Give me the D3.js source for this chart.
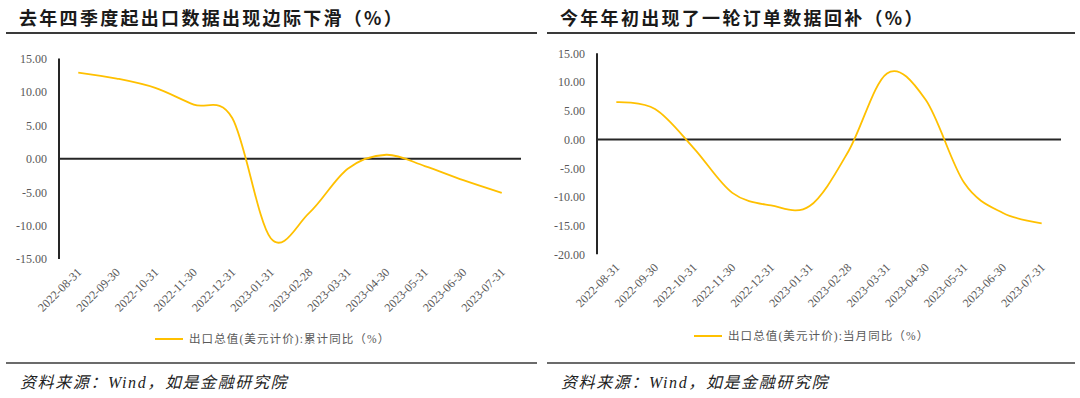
<!DOCTYPE html>
<html>
<head>
<meta charset="utf-8">
<script src="https://cdn.jsdelivr.net/npm/d3@7"></script>
<style>
  html, body { margin: 0; padding: 0; background: #fff; }
  svg { display: block; }
  .title { font-family: "Noto Sans CJK SC", sans-serif; font-weight: 700; font-size: 18px; fill: #1a1a1a; letter-spacing: 2.3px; }
  .source { font-family: "Liberation Serif", "Noto Sans CJK SC", serif; font-style: italic; font-size: 16px; fill: #222; letter-spacing: 1.6px; }
  .tick text { font-family: "Liberation Serif", serif; font-size: 12px; fill: #595959; }
  .legend { font-family: "Liberation Serif", "Noto Sans CJK SC", serif; font-size: 11.5px; fill: #595959; letter-spacing: 1.1px; }
</style>
</head>
<body>
<svg id="chart" width="1080" height="398"></svg>
<script>
// month-end dates, shared by both panels
const months = ["2022-08-31", "2022-09-30", "2022-10-31", "2022-11-30", "2022-12-31", "2023-01-31",
                "2023-02-28", "2023-03-31", "2023-04-30", "2023-05-31", "2023-06-30", "2023-07-31"];

// 出口总值(美元计价):累计同比
const cumulativeYoY = [12.9, 12.0, 10.6, 8.1, 6.1, -11.9, -8.1, -1.5, 0.6, -1.1, -3.2, -5.1];
// 出口总值(美元计价):当月同比
const monthlyYoY = [6.5, 5.3, -1.5, -9.3, -11.5, -11.6, -2.1, 11.5, 6.9, -7.6, -12.8, -14.6];

const leftTicks = [15, 10, 5, 0, -5, -10, -15];
const rightTicks = [15, 10, 5, 0, -5, -10, -15, -20];

const panels = [
    {
        title: "去年四季度起出口数据出现边际下滑（%）",
        legend: "出口总值(美元计价):累计同比（%）",
        values: cumulativeYoY, ticks: leftTicks, domain: [-15, 15],
        left: 6, right: 537, x0: 59, x1: 521, yTop: 58.5, yBot: 259,
        legendX: 155, legendY: 339
    },
    {
        title: "今年年初出现了一轮订单数据回补（%）",
        legend: "出口总值(美元计价):当月同比（%）",
        values: monthlyYoY, ticks: rightTicks, domain: [-20, 15],
        left: 547, right: 1075, x0: 597, x1: 1061, yTop: 53.3, yBot: 254.3,
        legendX: 694, legendY: 336
    }
];

const svg = d3.select("#chart");

function drawPanel(p) {
    const g = svg.append("g");

    // title + rule under it
    g.append("text").attr("class", "title")
        .attr("x", p.left + 13).attr("y", 25)
        .text(p.title);
    g.append("line")
        .attr("x1", p.left).attr("x2", p.right)
        .attr("y1", 33).attr("y2", 33)
        .attr("stroke", "#3a3a3a").attr("stroke-width", 2);

    const x = d3.scaleBand().domain(months).range([p.x0, p.x1]);
    const y = d3.scaleLinear().domain(p.domain).range([p.yBot, p.yTop]);

    // y axis: labels only, the spine is drawn by hand
    const yAxis = g.append("g")
        .attr("transform", `translate(${p.x0},0)`)
        .call(d3.axisLeft(y).tickValues(p.ticks).tickSize(0).tickPadding(12)
            .tickFormat(v => v.toFixed(2)));
    yAxis.select(".domain").remove();

    g.append("line")
        .attr("x1", p.x0).attr("x2", p.x0)
        .attr("y1", p.yTop).attr("y2", p.yBot)
        .attr("stroke", "#262626").attr("stroke-width", 2);

    // zero line
    g.append("line")
        .attr("x1", p.x0).attr("x2", p.x1)
        .attr("y1", y(0)).attr("y2", y(0))
        .attr("stroke", "#262626").attr("stroke-width", 2);

    // rotated date labels under the plot
    const xAxis = g.append("g")
        .attr("transform", `translate(0,${p.yBot})`)
        .call(d3.axisBottom(x).tickSize(0).tickPadding(0));
    xAxis.select(".domain").remove();
    xAxis.selectAll(".tick text")
        .attr("text-anchor", "end")
        .attr("dy", null)
        .attr("transform", "translate(4,14) rotate(-45)");

    // the series, smoothed like the original
    const line = d3.line()
        .x((d, i) => x(months[i]) + x.bandwidth() / 2)
        .y(d => y(d))
        .curve(d3.curveCardinal.tension(0));

    g.append("path")
        .datum(p.values)
        .attr("fill", "none")
        .attr("stroke", "#FFC000")
        .attr("stroke-width", 1.8)
        .attr("d", line);

    // legend
    g.append("line")
        .attr("x1", p.legendX).attr("x2", p.legendX + 28)
        .attr("y1", p.legendY).attr("y2", p.legendY)
        .attr("stroke", "#FFC000").attr("stroke-width", 2);
    g.append("text").attr("class", "legend")
        .attr("x", p.legendX + 34).attr("y", p.legendY + 4)
        .text(p.legend);

    // bottom rule + source
    g.append("line")
        .attr("x1", p.left).attr("x2", p.right)
        .attr("y1", 363).attr("y2", 363)
        .attr("stroke", "#6b6b6b").attr("stroke-width", 2);
    g.append("text").attr("class", "source")
        .attr("x", p.left + 14).attr("y", 388)
        .text("资料来源：Wind，如是金融研究院");
}

panels.forEach(drawPanel);
</script>
</body>
</html>
